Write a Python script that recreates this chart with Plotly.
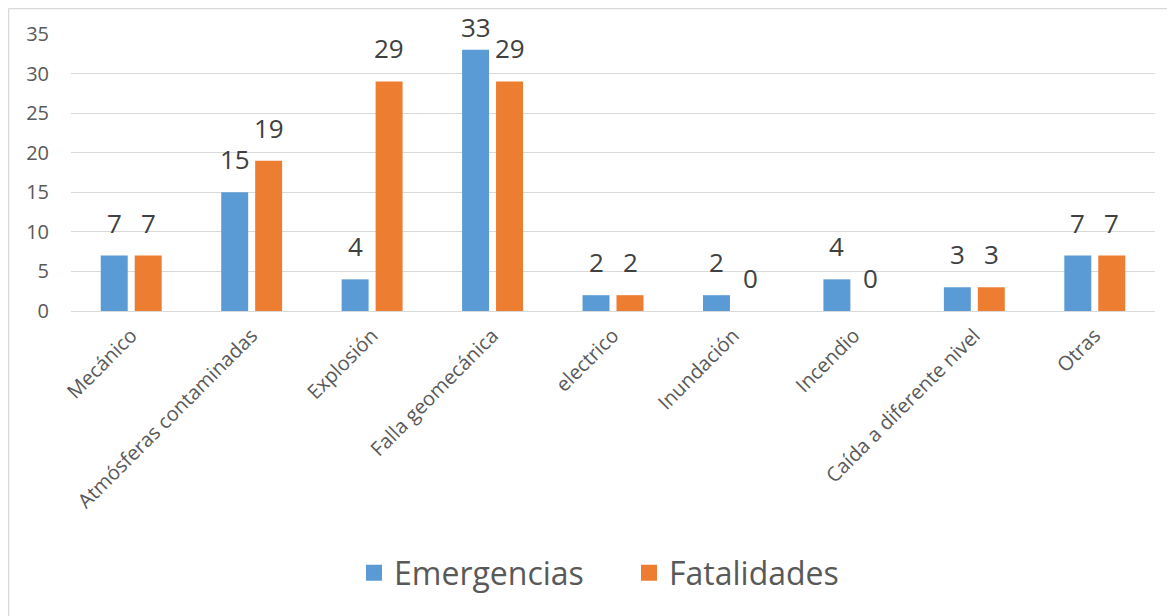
import plotly.graph_objects as go

categories = ["Mecánico", "Atmósferas contaminadas", "Explosión", "Falla geomecánica",
              "electrico", "Inundación", "Incendio", "Caída a diferente nivel", "Otras"]
emergencias = [7, 15, 4, 33, 2, 2, 4, 3, 7]
fatalidades = [7, 19, 29, 29, 2, 0, 0, 3, 7]
y_ticks = [0, 5, 10, 15, 20, 25, 30, 35]

BLUE = "#5B9BD5"
ORANGE = "#ED7D31"
FONT = "Open Sans"
Y_MAX = 35

fig = go.Figure()
fig.add_trace(go.Bar(x=categories, y=emergencias, name="Emergencias", showlegend=False,
                     marker=dict(color=BLUE, line=dict(width=0))))
fig.add_trace(go.Bar(x=categories, y=fatalidades, name="Fatalidades", showlegend=False,
                     marker=dict(color=ORANGE, line=dict(width=0))))
# legend proxies with larger square symbols
fig.add_trace(go.Scatter(x=[None], y=[None], mode="markers", name="Emergencias",
                         marker=dict(symbol="square", size=20, color=BLUE)))
fig.add_trace(go.Scatter(x=[None], y=[None], mode="markers", name="Fatalidades",
                         marker=dict(symbol="square", size=20, color=ORANGE)))

# page has an 8px body margin; target plot area in page pixels: x 71..1155, y 34..311
OFF = 8
W, H = 1175, 616
L = 71 - OFF
T = 34 - OFF
R = W + OFF - 1155
B = H + OFF - 311
pw, ph = W - L - R, H - T - B

def px_x(x):
    return (x - 71) / pw

def px_y(y):
    return (311 - y) / ph

annotations = []
for series, shift in ((emergencias, -17), (fatalidades, 17)):
    for c, v in zip(categories, series):
        # labels sit above the bar, pushed down when they would leave the chart top
        room = T + ph * (Y_MAX - v) / Y_MAX  # pixels from figure top to bar top
        ys = min(13, room - 39)
        annotations.append(dict(x=c, y=v, xref="x", yref="y", text=str(v),
                                showarrow=False, xshift=shift, yshift=ys,
                                yanchor="bottom", xanchor="center",
                                font=dict(family=FONT, size=26, color="#404040")))

shapes = [
    dict(type="line", xref="paper", yref="paper", x0=px_x(8.5), x1=px_x(8.5),
         y0=px_y(8.5), y1=px_y(640), line=dict(color="#D9D9D9", width=1.5)),
    dict(type="line", xref="paper", yref="paper", x0=px_x(8.5), x1=px_x(1200),
         y0=px_y(8.5), y1=px_y(8.5), line=dict(color="#D9D9D9", width=1.5)),
]

fig.update_layout(
    width=W, height=H,
    margin=dict(l=L, r=R, t=T, b=B, autoexpand=False),
    paper_bgcolor="white", plot_bgcolor="white",
    barmode="group", bargap=0.436, bargroupgap=0.206,
    font=dict(family=FONT, color="#595959"),
    showlegend=True,
    legend=dict(orientation="h", x=px_x(629), y=px_y(573), xanchor="center",
                yanchor="middle", font=dict(family=FONT, size=32, color="#595959"),
                itemwidth=30, entrywidth=230, tracegroupgap=0),
    annotations=annotations,
    shapes=shapes,
)
fig.update_yaxes(range=[0, Y_MAX], tickvals=y_ticks, showgrid=True, gridcolor="#D9D9D9",
                 gridwidth=1, zeroline=False, showline=False,
                 tickfont=dict(family=FONT, size=20, color="#595959"),
                 ticklabelstandoff=21)
fig.update_xaxes(tickangle=-45, showline=True, linecolor="#D9D9D9", linewidth=1,
                 tickfont=dict(family=FONT, size=20, color="#595959"),
                 ticklabelstandoff=4)

fig.write_html("out.html")
